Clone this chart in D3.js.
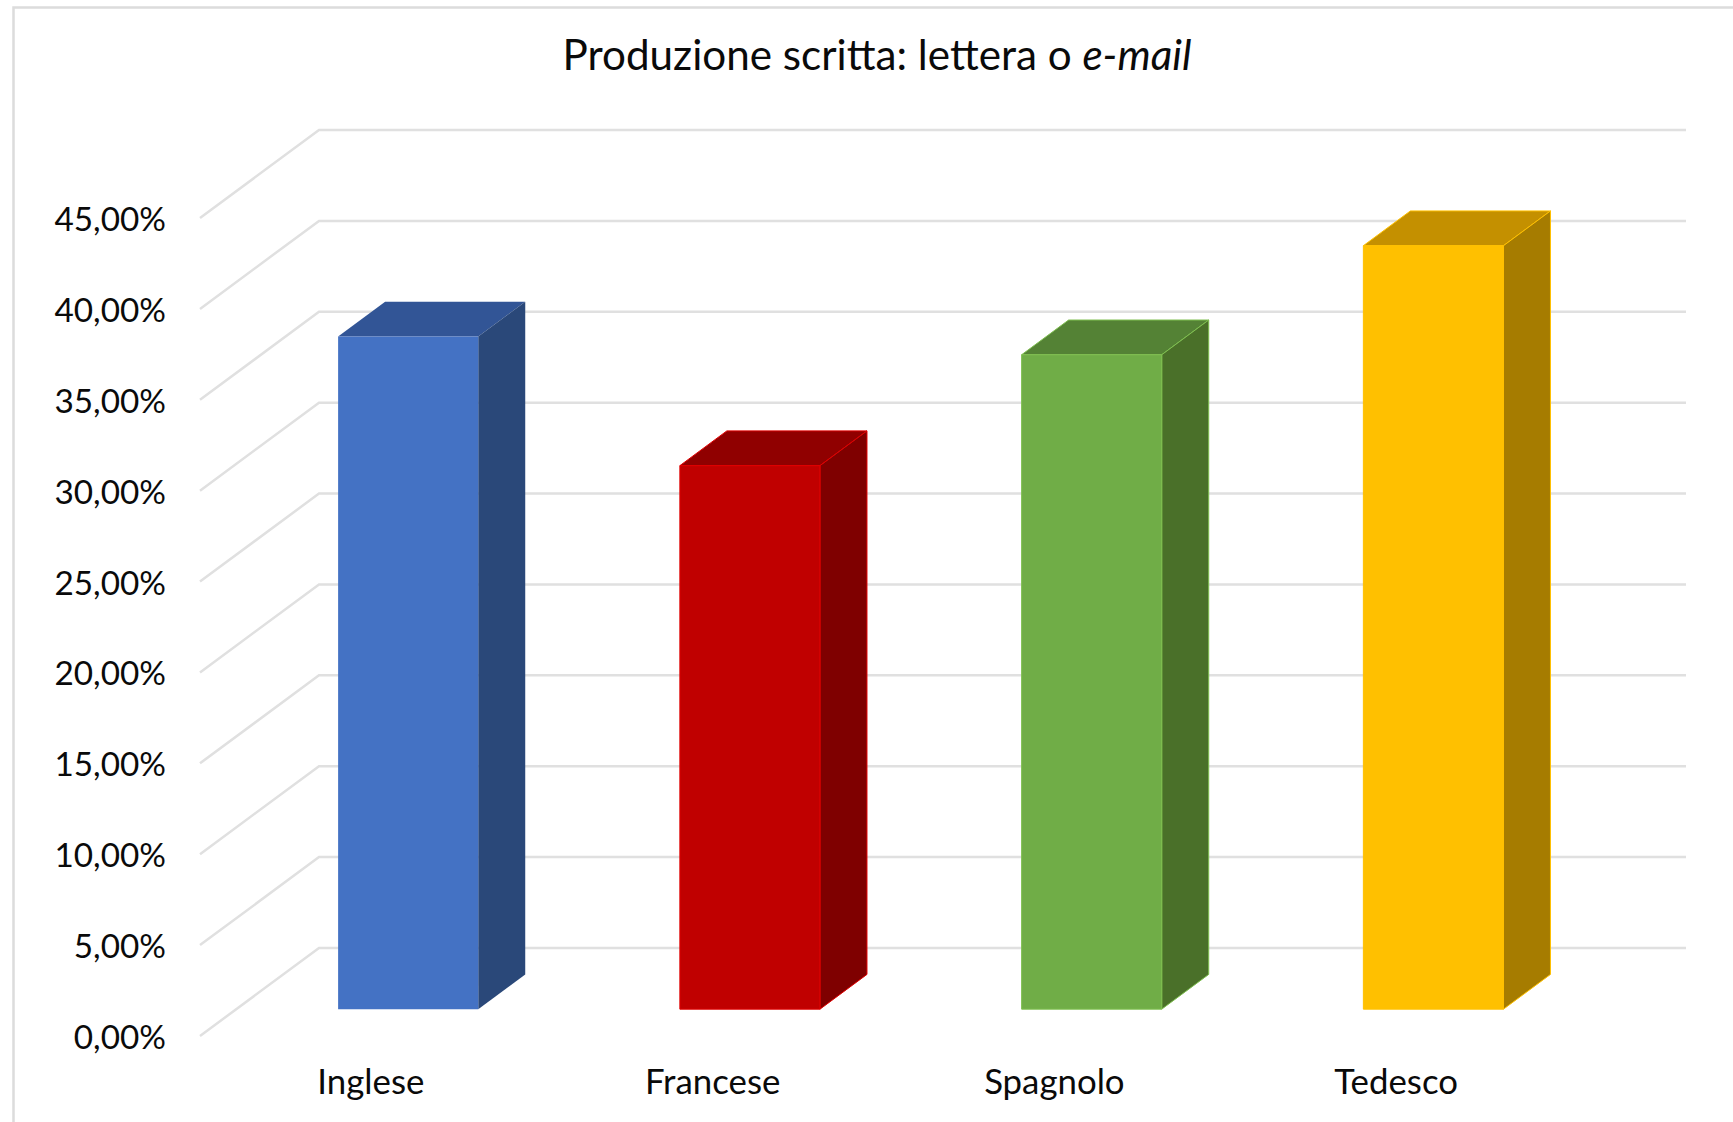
<!DOCTYPE html>
<html><head><meta charset="utf-8">
<script src="https://cdn.jsdelivr.net/npm/d3@7"></script>
<style>html,body{margin:0;background:#fff}svg{display:block}text{font-family:Lato,"Open Sans",sans-serif;fill:#0a0a0a}</style>
</head><body><svg id="c" width="1733" height="1122"></svg>
<script>
const categories = ["Inglese","Francese","Spagnolo","Tedesco"];
const values = [37.0,29.9,36.0,42.0];
const ticks = [0,5,10,15,20,25,30,35,40,45];
const frontColors = ["#4472C4","#C00000","#70AD47","#FFC000"];
const sideColors = ["#2A4879","#7F0000","#4A7029","#A67C00"];
const topColors = ["#325596","#900000","#548235","#C49000"];
const edgeColors = ["none","#E00000","#7FBF50","#FFC000"];

const svg = d3.select("#c");
const y = d3.scaleLinear().domain([0,45]).range([1036,218]);
const x = d3.scaleBand().domain(categories).range([201,1568]).paddingInner(0.59).paddingOuter(0.295);
const labelX = d3.scaleBand().domain(categories).range([200,1567]);
const depth = {x:119,y:-88};
const P = (px,py,d)=>[px+d*depth.x, py+d*depth.y];
const line = d3.line();

svg.append("path").attr("d","M1733,7.5H13.5V1122").attr("fill","none").attr("stroke","#DCDCDC").attr("stroke-width",2.5);

const title = svg.append("text").attr("x",877).attr("y",70).attr("text-anchor","middle").attr("font-size",42.2);
title.append("tspan").text("Produzione scritta: lettera o ");
title.append("tspan").attr("font-style","italic").text("e-mail");

const g = svg.append("g");
ticks.forEach(t=>{
  g.append("path").attr("fill","none").attr("stroke","#E0E0E0").attr("stroke-width",2.5)
   .attr("d",line([P(200,y(t),0),P(200,y(t),1),P(1567,y(t),1)]));
  svg.append("text").attr("x",166).attr("y",y(t)+13).attr("text-anchor","end").attr("font-size",33.3)
   .text(d3.format(".2f")(t).replace(".",",")+"%");
});

const D0=0.305, D1=0.70;
categories.forEach((c,i)=>{
  const l=x(c), r=l+x.bandwidth(), b=y(0), t=y(values[i]);
  const bar=svg.append("g").attr("stroke",edgeColors[i]).attr("stroke-width",1).attr("stroke-linejoin","round");
  bar.append("path").attr("fill",topColors[i]).attr("d",line([P(l,t,D0),P(r,t,D0),P(r,t,D1),P(l,t,D1)])+"Z");
  bar.append("path").attr("fill",sideColors[i]).attr("d",line([P(r,b,D0),P(r,t,D0),P(r,t,D1),P(r,b,D1)])+"Z");
  bar.append("path").attr("fill",frontColors[i]).attr("d",line([P(l,b,D0),P(r,b,D0),P(r,t,D0),P(l,t,D0)])+"Z");
  svg.append("text").attr("x",labelX(c)+labelX.bandwidth()/2).attr("y",1094).attr("text-anchor","middle").attr("font-size",34.8).text(c);
});
</script></body></html>
